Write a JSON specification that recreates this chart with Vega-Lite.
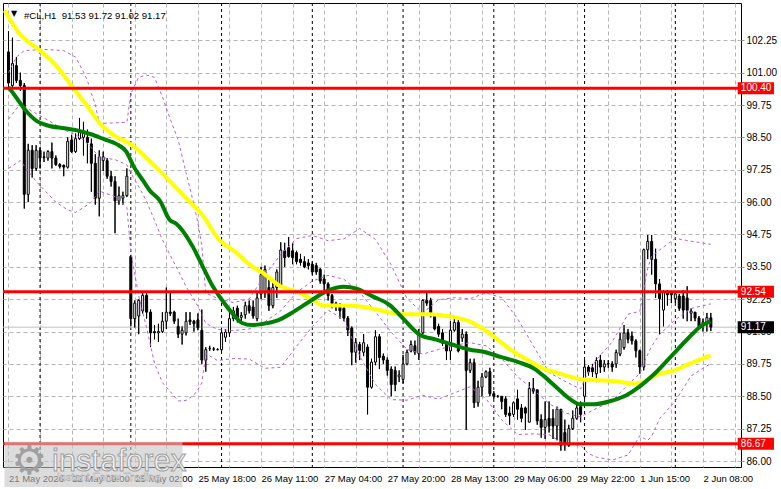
{
"$schema": "https://vega.github.io/schema/vega-lite/v6.json",
"width": 738, "height": 464,
"autosize": {"type": "none"},
"padding": {"left": 3, "top": 3, "right": 40, "bottom": 22},
"background": "#ffffff",
"config": {"view": {"stroke": "#000000", "strokeWidth": 1}, "font": "Liberation Sans",
"axisX": {"orient": "bottom", "grid": true, "gridColor": "#b4b4b4", "gridDash": [4, 3], "ticks": false, "domain": false, "labelAlign": "left", "labelBaseline": "top", "labelPadding": 6, "labelFontSize": 9.5, "labelColor": "#000000", "labelOverlap": false, "title": null},
"axisY": {"orient": "right", "format": ".2f", "grid": true, "gridColor": "#b4b4b4", "gridDash": [4, 3], "ticks": true, "tickSize": 3, "tickColor": "#909090", "domain": false, "labelPadding": 2, "labelFontSize": 10, "labelColor": "#000000", "labelOverlap": false, "title": null}
},
"datasets": {
"candles": [
{"i":0,"o":101.8,"h":102.6,"l":100.4,"c":100.6},{"i":1,"o":100.5,"h":102.35,"l":100.4,"c":101.35},{"i":2,"o":101.27,"h":101.6,"l":100.6,"c":100.7},{"i":3,"o":100.7,"h":101.0,"l":100.3,"c":100.5},{"i":4,"o":100.5,"h":100.6,"l":95.75,"c":96.3},{"i":5,"o":96.3,"h":98.25,"l":96.0,"c":98.0},{"i":6,"o":98.0,"h":98.2,"l":96.95,"c":97.3},{"i":7,"o":97.3,"h":98.2,"l":97.2,"c":98.0},{"i":8,"o":98.0,"h":98.1,"l":97.3,"c":97.7},{"i":9,"o":97.75,"h":97.95,"l":97.55,"c":97.72},
{"i":10,"o":97.7,"h":98.0,"l":97.6,"c":97.95},{"i":11,"o":97.95,"h":98.3,"l":97.3,"c":97.7},{"i":12,"o":97.7,"h":97.8,"l":97.4,"c":97.45},{"i":13,"o":97.45,"h":97.5,"l":97.3,"c":97.38},{"i":14,"o":97.42,"h":97.45,"l":97.0,"c":97.35},{"i":15,"o":97.35,"h":98.5,"l":97.3,"c":98.35},{"i":16,"o":98.4,"h":98.6,"l":97.9,"c":97.95},{"i":17,"o":97.95,"h":98.65,"l":97.9,"c":98.45},{"i":18,"o":98.45,"h":99.25,"l":98.4,"c":98.7},{"i":19,"o":98.5,"h":99.1,"l":97.8,"c":98.7},
{"i":20,"o":98.5,"h":98.8,"l":97.5,"c":98.3},{"i":21,"o":98.25,"h":98.45,"l":96.4,"c":97.5},{"i":22,"o":97.5,"h":97.85,"l":95.9,"c":96.15},{"i":23,"o":96.15,"h":98.0,"l":95.45,"c":97.75},{"i":24,"o":97.6,"h":97.95,"l":97.2,"c":97.75},{"i":25,"o":97.6,"h":97.7,"l":96.9,"c":97.0},{"i":26,"o":97.0,"h":97.2,"l":96.6,"c":96.8},{"i":27,"o":96.8,"h":97.0,"l":94.8,"c":96.05},{"i":28,"o":96.05,"h":96.6,"l":95.9,"c":96.25},{"i":29,"o":96.15,"h":96.4,"l":95.9,"c":96.25},
{"i":30,"o":96.25,"h":97.3,"l":96.2,"c":97.0},{"i":31,"o":93.9,"h":93.95,"l":91.2,"c":91.5},{"i":32,"o":91.5,"h":92.2,"l":91.15,"c":92.1},{"i":33,"o":91.6,"h":92.25,"l":90.9,"c":92.2},{"i":34,"o":91.8,"h":92.55,"l":91.7,"c":92.4},{"i":35,"o":92.4,"h":92.55,"l":91.5,"c":91.75},{"i":36,"o":91.75,"h":91.85,"l":90.4,"c":90.95},{"i":37,"o":91.0,"h":91.25,"l":90.7,"c":90.95},{"i":38,"o":90.95,"h":91.3,"l":90.6,"c":91.0},{"i":39,"o":91.0,"h":91.75,"l":90.95,"c":91.4},
{"i":40,"o":91.4,"h":92.7,"l":91.1,"c":91.75},{"i":41,"o":91.75,"h":92.5,"l":91.6,"c":91.7},{"i":42,"o":91.75,"h":91.8,"l":91.3,"c":91.4},{"i":43,"o":91.2,"h":91.5,"l":90.75,"c":90.9},{"i":44,"o":90.9,"h":91.2,"l":90.5,"c":91.05},{"i":45,"o":90.95,"h":91.75,"l":90.85,"c":91.4},{"i":46,"o":91.45,"h":91.75,"l":91.25,"c":91.38},{"i":47,"o":91.4,"h":91.45,"l":91.0,"c":91.3},{"i":48,"o":91.45,"h":91.7,"l":91.05,"c":91.15},{"i":49,"o":91.05,"h":91.85,"l":89.75,"c":89.9},
{"i":50,"o":89.9,"h":90.4,"l":89.45,"c":90.3},{"i":51,"o":90.35,"h":90.45,"l":90.25,"c":90.35},{"i":52,"o":90.32,"h":90.4,"l":90.25,"c":90.33},{"i":53,"o":90.3,"h":90.35,"l":90.28,"c":90.3},{"i":54,"o":90.3,"h":91.05,"l":90.25,"c":90.95},{"i":55,"o":90.78,"h":91.1,"l":90.6,"c":90.98},{"i":56,"o":90.95,"h":91.9,"l":90.8,"c":91.5},{"i":57,"o":91.5,"h":91.95,"l":91.4,"c":91.8},{"i":58,"o":91.9,"h":92.0,"l":91.35,"c":91.5},{"i":59,"o":91.55,"h":91.75,"l":91.35,"c":91.62},
{"i":60,"o":91.65,"h":92.15,"l":91.5,"c":92.0},{"i":61,"o":92.0,"h":92.2,"l":91.7,"c":91.8},{"i":62,"o":91.95,"h":92.2,"l":91.5,"c":91.6},{"i":63,"o":91.5,"h":92.5,"l":91.4,"c":92.3},{"i":64,"o":92.45,"h":93.5,"l":92.25,"c":93.2},{"i":65,"o":92.55,"h":93.55,"l":92.3,"c":93.4},{"i":66,"o":92.7,"h":93.1,"l":91.8,"c":92.0},{"i":67,"o":92.0,"h":92.9,"l":91.9,"c":92.7},{"i":68,"o":92.7,"h":93.4,"l":92.3,"c":93.3},{"i":69,"o":92.8,"h":94.45,"l":92.7,"c":94.15},
{"i":70,"o":94.12,"h":94.43,"l":93.5,"c":93.86},{"i":71,"o":94.24,"h":94.65,"l":93.86,"c":93.9},{"i":72,"o":94.12,"h":94.4,"l":93.6,"c":93.86},{"i":73,"o":94.05,"h":94.12,"l":93.6,"c":93.7},{"i":74,"o":93.79,"h":94.0,"l":93.55,"c":93.67},{"i":75,"o":93.7,"h":93.9,"l":93.45,"c":93.5},{"i":76,"o":93.65,"h":93.8,"l":93.4,"c":93.55},{"i":77,"o":93.6,"h":93.7,"l":93.2,"c":93.3},{"i":78,"o":93.55,"h":93.65,"l":93.2,"c":93.3},{"i":79,"o":93.4,"h":93.45,"l":92.85,"c":92.95},
{"i":80,"o":93.03,"h":93.2,"l":92.6,"c":92.84},{"i":81,"o":92.84,"h":92.9,"l":92.2,"c":92.39},{"i":82,"o":92.39,"h":92.45,"l":91.9,"c":92.08},{"i":83,"o":91.98,"h":92.15,"l":91.8,"c":92.08},{"i":84,"o":92.0,"h":92.1,"l":91.5,"c":91.8},{"i":85,"o":91.9,"h":92.0,"l":91.4,"c":91.52},{"i":86,"o":91.52,"h":91.6,"l":90.83,"c":91.06},{"i":87,"o":91.14,"h":91.2,"l":89.7,"c":90.2},{"i":88,"o":90.2,"h":90.75,"l":89.8,"c":90.57},{"i":89,"o":90.5,"h":90.6,"l":89.9,"c":90.27},
{"i":90,"o":90.2,"h":90.9,"l":90.05,"c":90.57},{"i":91,"o":90.4,"h":90.5,"l":87.8,"c":88.85},{"i":92,"o":88.85,"h":89.95,"l":88.8,"c":89.82},{"i":93,"o":89.82,"h":91.05,"l":89.7,"c":90.8},{"i":94,"o":90.8,"h":90.9,"l":89.55,"c":90.0},{"i":95,"o":90.05,"h":90.15,"l":89.75,"c":89.9},{"i":96,"o":89.9,"h":90.0,"l":89.3,"c":89.5},{"i":97,"o":89.55,"h":89.65,"l":88.5,"c":88.95},{"i":98,"o":89.5,"h":89.65,"l":88.7,"c":88.95},{"i":99,"o":89.25,"h":89.5,"l":89.05,"c":89.32},
{"i":100,"o":89.15,"h":90.1,"l":89.0,"c":89.75},{"i":101,"o":89.75,"h":90.3,"l":89.7,"c":90.2},{"i":102,"o":90.25,"h":90.65,"l":90.2,"c":90.5},{"i":103,"o":90.45,"h":90.65,"l":90.1,"c":90.2},{"i":104,"o":90.15,"h":91.1,"l":89.9,"c":90.95},{"i":105,"o":90.95,"h":92.25,"l":90.9,"c":92.2},{"i":106,"o":92.2,"h":92.54,"l":92.0,"c":92.1},{"i":107,"o":92.2,"h":92.3,"l":91.55,"c":91.6},{"i":108,"o":91.6,"h":91.7,"l":91.05,"c":91.1},{"i":109,"o":91.2,"h":91.3,"l":90.8,"c":90.9},
{"i":110,"o":90.95,"h":91.1,"l":90.45,"c":90.55},{"i":111,"o":90.55,"h":90.6,"l":89.9,"c":90.25},{"i":112,"o":90.25,"h":91.4,"l":89.9,"c":91.05},{"i":113,"o":91.05,"h":91.55,"l":91.0,"c":91.35},{"i":114,"o":91.35,"h":91.55,"l":90.2,"c":90.25},{"i":115,"o":90.75,"h":91.1,"l":90.6,"c":90.9},{"i":116,"o":90.9,"h":91.0,"l":87.2,"c":89.5},{"i":117,"o":89.5,"h":89.95,"l":89.4,"c":89.8},{"i":118,"o":89.8,"h":89.95,"l":88.05,"c":88.25},{"i":119,"o":88.25,"h":89.1,"l":88.1,"c":88.85},
{"i":120,"o":88.85,"h":89.4,"l":88.5,"c":89.25},{"i":121,"o":89.25,"h":89.5,"l":89.2,"c":89.45},{"i":122,"o":89.45,"h":89.6,"l":88.5,"c":88.6},{"i":123,"o":88.6,"h":88.7,"l":88.4,"c":88.5},{"i":124,"o":88.5,"h":88.55,"l":88.45,"c":88.5},{"i":125,"o":88.5,"h":88.5,"l":88.0,"c":88.3},{"i":126,"o":88.4,"h":88.5,"l":87.7,"c":87.8},{"i":127,"o":87.85,"h":88.1,"l":87.4,"c":87.75},{"i":128,"o":87.8,"h":88.3,"l":87.7,"c":88.25},{"i":129,"o":88.4,"h":88.75,"l":87.6,"c":88.0},
{"i":130,"o":88.05,"h":88.2,"l":87.5,"c":87.65},{"i":131,"o":88.05,"h":88.1,"l":87.2,"c":87.85},{"i":132,"o":87.5,"h":89.05,"l":87.5,"c":88.8},{"i":133,"o":88.8,"h":89.2,"l":88.6,"c":88.7},{"i":134,"o":88.75,"h":88.75,"l":87.4,"c":87.55},{"i":135,"o":87.6,"h":87.8,"l":86.9,"c":87.3},{"i":136,"o":87.3,"h":88.3,"l":86.85,"c":87.6},{"i":137,"o":87.65,"h":88.3,"l":87.1,"c":87.35},{"i":138,"o":87.65,"h":88.0,"l":86.85,"c":87.35},{"i":139,"o":87.35,"h":88.1,"l":86.8,"c":88.0},
{"i":140,"o":88.0,"h":88.0,"l":86.4,"c":86.6},{"i":141,"o":87.1,"h":87.6,"l":86.4,"c":86.65},{"i":142,"o":86.6,"h":87.4,"l":86.55,"c":87.25},{"i":143,"o":87.25,"h":87.95,"l":87.2,"c":87.65},{"i":144,"o":87.65,"h":88.2,"l":87.6,"c":88.05},{"i":145,"o":88.1,"h":88.3,"l":87.5,"c":87.8},{"i":146,"o":88.5,"h":89.9,"l":88.4,"c":89.63},{"i":147,"o":89.63,"h":89.7,"l":89.3,"c":89.44},{"i":148,"o":89.6,"h":89.75,"l":89.25,"c":89.45},{"i":149,"o":89.37,"h":90.0,"l":89.2,"c":89.88},
{"i":150,"o":89.9,"h":90.1,"l":89.4,"c":89.63},{"i":151,"o":89.63,"h":89.9,"l":89.45,"c":89.75},{"i":152,"o":89.75,"h":89.9,"l":89.6,"c":89.76},{"i":153,"o":89.75,"h":89.85,"l":89.45,"c":89.63},{"i":154,"o":89.75,"h":90.3,"l":89.6,"c":90.19},{"i":155,"o":90.13,"h":90.95,"l":90.05,"c":90.7},{"i":156,"o":90.38,"h":91.25,"l":90.3,"c":90.95},{"i":157,"o":90.95,"h":91.1,"l":90.55,"c":90.7},{"i":158,"o":90.83,"h":91.0,"l":90.5,"c":90.64},{"i":159,"o":90.64,"h":90.7,"l":90.0,"c":90.26},
{"i":160,"o":90.26,"h":90.3,"l":89.37,"c":89.63},{"i":161,"o":89.63,"h":94.2,"l":89.5,"c":94.16},{"i":162,"o":94.16,"h":94.73,"l":93.8,"c":94.48},{"i":163,"o":94.48,"h":94.73,"l":93.2,"c":93.79},{"i":164,"o":93.79,"h":94.2,"l":92.3,"c":92.84},{"i":165,"o":92.84,"h":93.03,"l":90.89,"c":92.27},{"i":166,"o":91.83,"h":92.6,"l":91.2,"c":92.53},{"i":167,"o":92.55,"h":92.6,"l":92.0,"c":92.42},{"i":168,"o":92.5,"h":92.55,"l":92.1,"c":92.42},{"i":169,"o":92.27,"h":92.55,"l":92.1,"c":92.45},
{"i":170,"o":92.37,"h":92.45,"l":91.8,"c":91.9},{"i":171,"o":92.37,"h":92.6,"l":91.5,"c":91.83},{"i":172,"o":92.3,"h":92.75,"l":91.4,"c":91.83},{"i":173,"o":91.71,"h":91.9,"l":91.4,"c":91.79},{"i":174,"o":91.75,"h":91.75,"l":91.4,"c":91.52},{"i":175,"o":91.52,"h":91.6,"l":91.1,"c":91.2},{"i":176,"o":91.24,"h":91.5,"l":91.0,"c":91.37},{"i":177,"o":91.37,"h":91.72,"l":91.0,"c":91.54},{"i":178,"o":91.53,"h":91.72,"l":91.02,"c":91.17}
],
"yellow": [
{"i":-1,"v":103.4},{"i":2.9,"v":102.48},{"i":7.4,"v":101.92},{"i":11.7,"v":101.34},{"i":15.9,"v":100.51},{"i":19.9,"v":99.72},{"i":23.4,"v":99.0},{"i":26.7,"v":98.58},{"i":31.2,"v":98.21},{"i":36.7,"v":97.45},{"i":40.9,"v":96.81},{"i":44.9,"v":96.17},{"i":49.2,"v":95.49},{"i":53.4,"v":94.54},{"i":57.4,"v":94.09},{"i":61.7,"v":93.52},{"i":64.2,"v":93.29},{"i":69.2,"v":92.73},{"i":72.4,"v":92.58},{"i":76.7,"v":92.27},{"i":79.9,"v":92.01},{"i":84.2,"v":92.01},{"i":89.2,"v":91.97},{"i":94.2,"v":91.82},{"i":99.2,"v":91.67},{"i":106.7,"v":91.67},{"i":111.7,"v":91.59},{"i":116.7,"v":91.4},{"i":119.9,"v":91.14},{"i":123.4,"v":90.76},{"i":127.9,"v":90.23},{"i":131.7,"v":89.89},{"i":135.9,"v":89.55},{"i":139.2,"v":89.4},{"i":145.9,"v":89.14},{"i":152.4,"v":89.1},{"i":159.2,"v":88.99},{"i":160.9,"v":89.06},{"i":164.2,"v":89.33},{"i":168.4,"v":89.48},{"i":172.4,"v":89.74},{"i":177.9,"v":90.08}
],
"green": [
{"i":0,"v":100.44},{"i":1.7,"v":100.1},{"i":4.2,"v":99.57},{"i":7.4,"v":99.11},{"i":9.9,"v":98.96},{"i":14.2,"v":98.85},{"i":17.4,"v":98.77},{"i":20.9,"v":98.62},{"i":24.2,"v":98.43},{"i":27.4,"v":98.24},{"i":29.9,"v":97.94},{"i":31.7,"v":97.38},{"i":34.2,"v":96.81},{"i":35.9,"v":96.43},{"i":38.4,"v":96.05},{"i":40.9,"v":95.3},{"i":42.4,"v":95.18},{"i":46.7,"v":94.28},{"i":49.2,"v":93.52},{"i":51.7,"v":92.77},{"i":54.2,"v":92.2},{"i":56.7,"v":91.71},{"i":59.2,"v":91.33},{"i":61.7,"v":91.25},{"i":64.2,"v":91.29},{"i":68.4,"v":91.44},{"i":72.4,"v":91.78},{"i":76.7,"v":92.2},{"i":80.9,"v":92.58},{"i":84.9,"v":92.73},{"i":88.4,"v":92.65},{"i":92.4,"v":92.35},{"i":96.7,"v":92.01},{"i":99.9,"v":91.52},{"i":104.2,"v":90.88},{"i":108.4,"v":90.69},{"i":112.4,"v":90.5},{"i":116.7,"v":90.31},{"i":120.9,"v":90.2},{"i":124.9,"v":90.01},{"i":129.2,"v":89.82},{"i":133.4,"v":89.55},{"i":135.9,"v":89.25},{"i":139.2,"v":88.8},{"i":142.4,"v":88.38},{"i":144.9,"v":88.19},{"i":148.4,"v":88.19},{"i":152.4,"v":88.31},{"i":155.9,"v":88.49},{"i":159.2,"v":88.8},{"i":164.2,"v":89.44},{"i":168.4,"v":90.12},{"i":172.4,"v":90.76},{"i":174.9,"v":91.14},{"i":177.9,"v":91.4}
],
"bands": [
{"b":"upper","i":0,"v":101.0},{"b":"upper","i":2,"v":101.6},{"b":"upper","i":4,"v":101.85},{"b":"upper","i":9,"v":101.9},{"b":"upper","i":14,"v":101.85},{"b":"upper","i":17,"v":101.6},{"b":"upper","i":19,"v":101.03},{"b":"upper","i":20,"v":100.7},{"b":"upper","i":21,"v":100.2},{"b":"upper","i":22,"v":99.77},{"b":"upper","i":23,"v":99.04},{"b":"upper","i":27,"v":99.06},{"b":"upper","i":30,"v":99.08},{"b":"upper","i":31,"v":100.19},{"b":"upper","i":33,"v":100.82},{"b":"upper","i":35,"v":100.91},{"b":"upper","i":37,"v":100.82},{"b":"upper","i":39,"v":100.07},{"b":"upper","i":41,"v":99.2},{"b":"upper","i":43,"v":98.4},{"b":"upper","i":45,"v":97.14},{"b":"upper","i":47,"v":95.91},{"b":"upper","i":48,"v":95.2},{"b":"upper","i":49,"v":94.3},{"b":"upper","i":50,"v":92.49},{"b":"upper","i":53,"v":92.28},{"b":"upper","i":57,"v":92.12},{"b":"upper","i":61,"v":92.26},{"b":"upper","i":65,"v":93.18},{"b":"upper","i":69,"v":93.98},{"b":"upper","i":73,"v":94.59},{"b":"upper","i":77,"v":94.71},{"b":"upper","i":81,"v":94.51},{"b":"upper","i":85,"v":94.58},{"b":"upper","i":89,"v":94.98},{"b":"upper","i":93,"v":94.56},{"b":"upper","i":97,"v":93.57},{"b":"upper","i":101,"v":92.27},{"b":"upper","i":105,"v":91.72},{"b":"upper","i":109,"v":92.23},{"b":"upper","i":113,"v":92.31},{"b":"upper","i":117,"v":92.27},{"b":"upper","i":121,"v":92.49},{"b":"upper","i":125,"v":92.31},{"b":"upper","i":129,"v":91.5},{"b":"upper","i":133,"v":90.45},{"b":"upper","i":137,"v":89.42},{"b":"upper","i":141,"v":89.08},{"b":"upper","i":145,"v":88.78},{"b":"upper","i":146,"v":89.15},{"b":"upper","i":147,"v":89.45},{"b":"upper","i":149,"v":89.91},{"b":"upper","i":153,"v":90.6},{"b":"upper","i":157,"v":91.67},{"b":"upper","i":160,"v":91.78},{"b":"upper","i":161,"v":92.64},{"b":"upper","i":162,"v":93.44},{"b":"upper","i":163,"v":93.91},{"b":"upper","i":165,"v":94.15},{"b":"upper","i":169,"v":94.6},{"b":"upper","i":173,"v":94.49},{"b":"upper","i":178,"v":94.37},
{"b":"middle","i":0,"v":99.2},{"b":"middle","i":3,"v":99.8},{"b":"middle","i":6,"v":99.5},{"b":"middle","i":9,"v":99.25},{"b":"middle","i":14,"v":98.8},{"b":"middle","i":17,"v":98.6},{"b":"middle","i":19,"v":98.41},{"b":"middle","i":21,"v":98.1},{"b":"middle","i":23,"v":97.74},{"b":"middle","i":27,"v":97.64},{"b":"middle","i":30,"v":97.44},{"b":"middle","i":31,"v":97.13},{"b":"middle","i":33,"v":96.6},{"b":"middle","i":35,"v":96.03},{"b":"middle","i":37,"v":95.3},{"b":"middle","i":39,"v":94.55},{"b":"middle","i":41,"v":93.94},{"b":"middle","i":43,"v":93.36},{"b":"middle","i":45,"v":92.74},{"b":"middle","i":47,"v":92.23},{"b":"middle","i":48,"v":91.98},{"b":"middle","i":49,"v":91.66},{"b":"middle","i":50,"v":91.32},{"b":"middle","i":53,"v":91.08},{"b":"middle","i":57,"v":91.04},{"b":"middle","i":61,"v":91.1},{"b":"middle","i":65,"v":91.38},{"b":"middle","i":69,"v":91.8},{"b":"middle","i":73,"v":92.51},{"b":"middle","i":77,"v":92.95},{"b":"middle","i":81,"v":93.17},{"b":"middle","i":85,"v":93.02},{"b":"middle","i":89,"v":92.52},{"b":"middle","i":93,"v":91.76},{"b":"middle","i":97,"v":90.97},{"b":"middle","i":101,"v":90.31},{"b":"middle","i":105,"v":90.13},{"b":"middle","i":109,"v":90.31},{"b":"middle","i":113,"v":90.47},{"b":"middle","i":117,"v":90.57},{"b":"middle","i":121,"v":90.45},{"b":"middle","i":125,"v":89.95},{"b":"middle","i":129,"v":89.26},{"b":"middle","i":133,"v":88.75},{"b":"middle","i":137,"v":88.22},{"b":"middle","i":141,"v":87.86},{"b":"middle","i":145,"v":87.7},{"b":"middle","i":146,"v":87.79},{"b":"middle","i":147,"v":87.87},{"b":"middle","i":149,"v":88.03},{"b":"middle","i":153,"v":88.32},{"b":"middle","i":157,"v":88.95},{"b":"middle","i":160,"v":89.38},{"b":"middle","i":161,"v":89.76},{"b":"middle","i":162,"v":90.12},{"b":"middle","i":163,"v":90.43},{"b":"middle","i":165,"v":90.89},{"b":"middle","i":169,"v":91.46},{"b":"middle","i":173,"v":91.89},{"b":"middle","i":178,"v":92.07},
{"b":"lower","i":0,"v":97.3},{"b":"lower","i":3,"v":97.6},{"b":"lower","i":7,"v":96.8},{"b":"lower","i":12,"v":96.0},{"b":"lower","i":15,"v":95.7},{"b":"lower","i":17,"v":95.6},{"b":"lower","i":19,"v":95.79},{"b":"lower","i":21,"v":96.0},{"b":"lower","i":23,"v":96.43},{"b":"lower","i":27,"v":96.21},{"b":"lower","i":30,"v":95.8},{"b":"lower","i":31,"v":94.07},{"b":"lower","i":33,"v":92.38},{"b":"lower","i":35,"v":91.15},{"b":"lower","i":37,"v":89.78},{"b":"lower","i":39,"v":89.03},{"b":"lower","i":41,"v":88.68},{"b":"lower","i":43,"v":88.32},{"b":"lower","i":45,"v":88.34},{"b":"lower","i":47,"v":88.55},{"b":"lower","i":48,"v":88.76},{"b":"lower","i":49,"v":89.02},{"b":"lower","i":50,"v":90.15},{"b":"lower","i":53,"v":89.88},{"b":"lower","i":57,"v":89.96},{"b":"lower","i":61,"v":89.94},{"b":"lower","i":65,"v":89.58},{"b":"lower","i":69,"v":89.62},{"b":"lower","i":73,"v":90.43},{"b":"lower","i":77,"v":91.19},{"b":"lower","i":81,"v":91.83},{"b":"lower","i":85,"v":91.46},{"b":"lower","i":89,"v":90.06},{"b":"lower","i":93,"v":88.96},{"b":"lower","i":97,"v":88.37},{"b":"lower","i":101,"v":88.35},{"b":"lower","i":105,"v":88.54},{"b":"lower","i":109,"v":88.39},{"b":"lower","i":113,"v":88.63},{"b":"lower","i":117,"v":88.87},{"b":"lower","i":121,"v":88.41},{"b":"lower","i":125,"v":87.59},{"b":"lower","i":129,"v":87.02},{"b":"lower","i":133,"v":87.05},{"b":"lower","i":137,"v":87.02},{"b":"lower","i":141,"v":86.64},{"b":"lower","i":145,"v":86.62},{"b":"lower","i":146,"v":86.43},{"b":"lower","i":147,"v":86.29},{"b":"lower","i":149,"v":86.15},{"b":"lower","i":153,"v":86.04},{"b":"lower","i":157,"v":86.23},{"b":"lower","i":160,"v":86.98},{"b":"lower","i":161,"v":86.88},{"b":"lower","i":162,"v":86.8},{"b":"lower","i":163,"v":86.95},{"b":"lower","i":165,"v":87.63},{"b":"lower","i":169,"v":88.32},{"b":"lower","i":173,"v":89.29},{"b":"lower","i":178,"v":89.77}
],
"separators": [{"i":8},{"i":31},{"i":54},{"i":77},{"i":100},{"i":123},{"i":146},{"i":169}],
"levels": [{"p":100.40},{"p":92.54},{"p":86.67}],
"last": [{"p":91.17}],
"header": [{"t":"#CL,H1\u00a0 91.53 91.72 91.02 91.17"}],
"marker": [{"t":"▼"}],
"wm": [{"t":"instaforex","s":"Instant Forex Trading","g":"⚙"}]
},
"layer": [
{
"data": {"name": "candles"},
"mark": {"type": "rule", "color": "#000000", "strokeWidth": 1},
"encoding": {
"x": {"field": "i", "type": "quantitative", "title": null,
"scale": {"domain": [-0.125, 184.375], "nice": false, "zero": false},
"axis": {"values": [0,8,16,24,32,40,48,56,64,72,80,88,96,104,112,120,128,136,144,152,160,168,176,184], "tickCount": 100, "labelOverlap": false, "labelFlush": false, "labelBound": false,
"labelExpr": "datum.value == 0 ? '21 May 2026' : datum.value == 16 ? '22 May 09:00' : datum.value == 32 ? '25 May 02:00' : datum.value == 48 ? '25 May 18:00' : datum.value == 64 ? '26 May 11:00' : datum.value == 80 ? '27 May 04:00' : datum.value == 96 ? '27 May 20:00' : datum.value == 112 ? '28 May 13:00' : datum.value == 128 ? '29 May 06:00' : datum.value == 144 ? '29 May 22:00' : datum.value == 160 ? '1 Jun 15:00' : datum.value == 176 ? '2 Jun 08:00' : ''"}},
"y": {"field": "l", "type": "quantitative", "title": null,
"scale": {"domain": [85.962, 103.497], "nice": false, "zero": false},
"axis": {"values": [86,87.25,88.5,89.75,91,92.25,93.5,94.75,96,97.25,98.5,99.75,101,102.25], "tickCount": 100, "labelOverlap": false, "labelFlush": false, "labelBound": false}},
"y2": {"field": "h"}
}
},
{
"data": {"name": "separators"},
"mark": {"type": "rule", "color": "#000000", "strokeWidth": 1, "strokeDash": [3, 3]},
"encoding": {
"x": {"field": "i", "type": "quantitative", "title": null, "scale": {"domain": [-0.125, 184.375], "nice": false, "zero": false}}
}
},
{
"data": {"name": "last"},
"mark": {"type": "rule", "color": "#c0c0c0", "strokeWidth": 1},
"encoding": {
"y": {"field": "p", "type": "quantitative", "title": null, "scale": {"domain": [85.962, 103.497], "nice": false, "zero": false}}
}
},
{
"data": {"name": "candles"},
"mark": {"type": "rule", "color": "#000000", "strokeWidth": 1},
"encoding": {
"x": {"field": "i", "type": "quantitative", "title": null, "scale": {"domain": [-0.125, 184.375], "nice": false, "zero": false}},
"y": {"field": "l", "type": "quantitative", "title": null, "scale": {"domain": [85.962, 103.497], "nice": false, "zero": false}},
"y2": {"field": "h"}
}
},
{
"data": {"name": "candles"},
"mark": {"type": "bar", "size": 2, "stroke": "#000000", "strokeWidth": 1, "orient": "vertical"},
"encoding": {
"x": {"field": "i", "type": "quantitative", "title": null, "scale": {"domain": [-0.125, 184.375], "nice": false, "zero": false}},
"y": {"field": "o", "type": "quantitative", "title": null, "scale": {"domain": [85.962, 103.497], "nice": false, "zero": false}},
"y2": {"field": "c"},
"fill": {"condition": {"test": "datum.c >= datum.o", "value": "#ffffff"}, "value": "#000000"}
}
},
{
"data": {"name": "bands"},
"mark": {"type": "line", "color": "#b45ee0", "strokeWidth": 1, "strokeDash": [3, 3], "clip": true},
"encoding": {
"x": {"field": "i", "type": "quantitative", "title": null, "scale": {"domain": [-0.125, 184.375], "nice": false, "zero": false}},
"y": {"field": "v", "type": "quantitative", "title": null, "scale": {"domain": [85.962, 103.497], "nice": false, "zero": false}},
"detail": {"field": "b", "type": "nominal"}
}
},
{
"data": {"name": "yellow"},
"mark": {"type": "line", "color": "#ffff00", "strokeWidth": 4, "clip": true, "interpolate": "monotone"},
"encoding": {
"x": {"field": "i", "type": "quantitative", "title": null, "scale": {"domain": [-0.125, 184.375], "nice": false, "zero": false}},
"y": {"field": "v", "type": "quantitative", "title": null, "scale": {"domain": [85.962, 103.497], "nice": false, "zero": false}}
}
},
{
"data": {"name": "green"},
"mark": {"type": "line", "color": "#008000", "strokeWidth": 4, "clip": true, "interpolate": "monotone"},
"encoding": {
"x": {"field": "i", "type": "quantitative", "title": null, "scale": {"domain": [-0.125, 184.375], "nice": false, "zero": false}},
"y": {"field": "v", "type": "quantitative", "title": null, "scale": {"domain": [85.962, 103.497], "nice": false, "zero": false}}
}
},
{
"data": {"name": "levels"},
"mark": {"type": "rule", "color": "#ff0000", "strokeWidth": 3},
"encoding": {
"y": {"field": "p", "type": "quantitative", "title": null, "scale": {"domain": [85.962, 103.497], "nice": false, "zero": false}}
}
},
{
"data": {"name": "levels"},
"mark": {"type": "bar", "orient": "horizontal", "size": 12, "color": "#ff0000"},
"encoding": {
"y": {"field": "p", "type": "quantitative", "title": null, "scale": {"domain": [85.962, 103.497], "nice": false, "zero": false}},
"x": {"datum": 184.8, "type": "quantitative", "title": null},
"x2": {"datum": 194}
}
},
{
"data": {"name": "last"},
"mark": {"type": "bar", "orient": "horizontal", "size": 12, "color": "#000000"},
"encoding": {
"y": {"field": "p", "type": "quantitative", "title": null, "scale": {"domain": [85.962, 103.497], "nice": false, "zero": false}},
"x": {"datum": 184.8, "type": "quantitative", "title": null},
"x2": {"datum": 194}
}
},
{
"data": {"name": "levels"},
"mark": {"type": "text", "align": "left", "baseline": "middle", "color": "#ffffff", "fontSize": 10, "font": "Liberation Sans"},
"encoding": {
"y": {"field": "p", "type": "quantitative", "title": null, "scale": {"domain": [85.962, 103.497], "nice": false, "zero": false}},
"x": {"datum": 185.6, "type": "quantitative", "title": null},
"text": {"field": "p", "type": "quantitative", "format": ".2f"}
}
},
{
"data": {"name": "last"},
"mark": {"type": "text", "align": "left", "baseline": "middle", "color": "#ffffff", "fontSize": 10, "font": "Liberation Sans"},
"encoding": {
"y": {"field": "p", "type": "quantitative", "title": null, "scale": {"domain": [85.962, 103.497], "nice": false, "zero": false}},
"x": {"datum": 185.6, "type": "quantitative", "title": null},
"text": {"field": "p", "type": "quantitative", "format": ".2f"}
}
},
{
"data": {"name": "header"},
"mark": {"type": "text", "align": "left", "baseline": "middle", "color": "#000000", "fontSize": 9.6, "font": "Liberation Sans"},
"encoding": {
"x": {"datum": 3.9, "type": "quantitative", "title": null},
"y": {"datum": 103.2, "type": "quantitative", "title": null},
"text": {"field": "t"}
}
},
{
"data": {"name": "marker"},
"mark": {"type": "text", "align": "center", "baseline": "middle", "color": "#000000", "fontSize": 8, "font": "DejaVu Sans"},
"encoding": {
"x": {"datum": 1.4, "type": "quantitative", "title": null},
"y": {"datum": 103.25, "type": "quantitative", "title": null},
"text": {"field": "t"}
}
},
{
"data": {"name": "wm"},
"mark": {"type": "rect", "color": "#c4c4c4", "opacity": 0.6},
"encoding": {
"x": {"datum": -1, "type": "quantitative", "title": null},
"x2": {"datum": 44.1},
"y": {"datum": 86.74, "type": "quantitative", "title": null},
"y2": {"datum": 85.0}
}
},
{
"data": {"name": "wm"},
"mark": {"type": "text", "align": "center", "baseline": "middle", "color": "#a0a0a0", "fontSize": 40, "font": "DejaVu Sans"},
"encoding": {
"x": {"datum": 5.3, "type": "quantitative", "title": null},
"y": {"datum": 85.98, "type": "quantitative", "title": null},
"text": {"field": "g"}
}
},
{
"data": {"name": "wm"},
"mark": {"type": "text", "align": "left", "baseline": "alphabetic", "color": "#f4f4f4", "stroke": "#a0a0a0", "strokeWidth": 1, "fontSize": 31, "font": "Liberation Sans"},
"encoding": {
"x": {"datum": 11.0, "type": "quantitative", "title": null},
"y": {"datum": 85.62, "type": "quantitative", "title": null},
"text": {"field": "t"}
}
},
{
"data": {"name": "wm"},
"mark": {"type": "text", "align": "left", "baseline": "middle", "color": "#f4f4f4", "stroke": "#9a9a9a", "strokeWidth": 0.4, "fontSize": 11, "font": "Liberation Sans"},
"encoding": {
"x": {"datum": 12.2, "type": "quantitative", "title": null},
"y": {"datum": 85.36, "type": "quantitative", "title": null},
"text": {"field": "s"}
}
}
]
}
